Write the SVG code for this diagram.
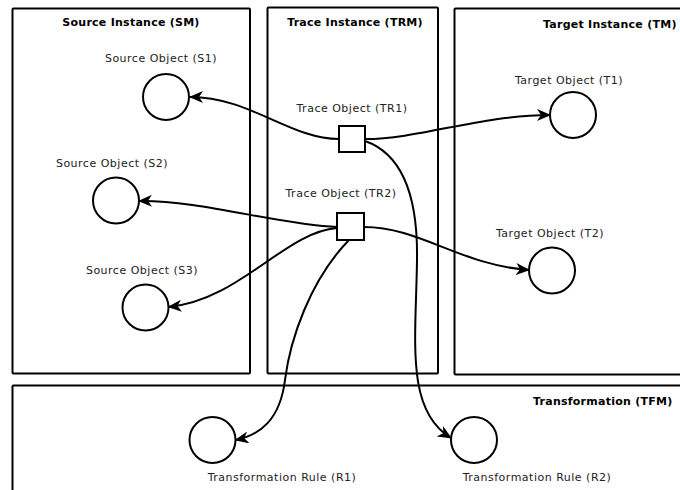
<svg xmlns="http://www.w3.org/2000/svg" width="680" height="490" viewBox="0 0 680 490">
<style>
.box{fill:#fff;stroke:#000;stroke-width:2}
.obj{fill:#fff;stroke:#000;stroke-width:2}
.title{font-family:"DejaVu Sans",sans-serif;font-weight:bold;font-size:11px;letter-spacing:0.25px;fill:#000}
.lbl{font-family:"DejaVu Sans",sans-serif;font-size:11px;letter-spacing:0.5px;fill:#222}
.con{fill:none;stroke:#000;stroke-width:2}
</style>
<defs>
<marker id="arr" viewBox="0 0 14 12" refX="13" refY="6" markerWidth="14" markerHeight="12" markerUnits="userSpaceOnUse" orient="auto">
<path d="M0,0 L14,6 L0,12 L4,6 z" fill="#000"/>
</marker>
</defs>
<rect width="680" height="490" fill="#fff"/>
<g id="source-instance">
<rect class="box" x="12.5" y="8.5" width="237.5" height="365" rx="1"/>
<text class="title" x="131" y="26" text-anchor="middle">Source Instance (SM)</text>
</g>
<g id="trace-instance">
<rect class="box" x="267.5" y="7.5" width="170.5" height="366" rx="1"/>
<text class="title" x="355" y="26" text-anchor="middle">Trace Instance (TRM)</text>
</g>
<g id="target-instance">
<rect class="box" x="454.5" y="8.5" width="240" height="366" rx="1"/>
<text class="title" x="543" y="28">Target Instance (TM)</text>
</g>
<g id="transformation">
<rect class="box" x="12.5" y="385.5" width="690" height="120" rx="1"/>
<text class="title" x="533" y="405">Transformation (TFM)</text>
</g>
<g id="S1">
<text class="lbl" x="161" y="62" text-anchor="middle">Source Object (S1)</text>
<circle class="obj" cx="166" cy="97" r="23"/>
</g>
<g id="S2">
<text class="lbl" x="112" y="167" text-anchor="middle">Source Object (S2)</text>
<circle class="obj" cx="116" cy="200.5" r="23"/>
</g>
<g id="S3">
<text class="lbl" x="142" y="274" text-anchor="middle">Source Object (S3)</text>
<circle class="obj" cx="145.5" cy="307.5" r="23"/>
</g>
<g id="TR1">
<text class="lbl" x="352" y="112" text-anchor="middle">Trace Object (TR1)</text>
<rect class="obj" x="339" y="126" width="26" height="26"/>
</g>
<g id="TR2">
<text class="lbl" x="341" y="197" text-anchor="middle">Trace Object (TR2)</text>
<rect class="obj" x="337" y="213" width="27" height="27"/>
</g>
<g id="T1">
<text class="lbl" x="569" y="84" text-anchor="middle">Target Object (T1)</text>
<circle class="obj" cx="573" cy="115" r="23"/>
</g>
<g id="T2">
<text class="lbl" x="550" y="237" text-anchor="middle">Target Object (T2)</text>
<circle class="obj" cx="552" cy="270.5" r="23"/>
</g>
<g id="R1">
<circle class="obj" cx="212.5" cy="440" r="23"/>
<text class="lbl" x="282" y="481" text-anchor="middle">Transformation Rule (R1)</text>
</g>
<g id="R2">
<circle class="obj" cx="474" cy="440" r="23"/>
<text class="lbl" x="537" y="481" text-anchor="middle">Transformation Rule (R2)</text>
</g>
<g id="connectors">
<path class="con" marker-end="url(#arr)" d="M339,139 C290,139 250,97 190,97"/>
<path class="con" marker-end="url(#arr)" d="M365,139 C420,139 480,115 550,115"/>
<path class="con" marker-end="url(#arr)" d="M365,141 C405,155 418,200 417,260 C416,340 405,410 451,438"/>
<path class="con" marker-end="url(#arr)" d="M337,227 C280,225 200,200 139,201"/>
<path class="con" marker-end="url(#arr)" d="M337,228 C285,232 240,300 168.5,307"/>
<path class="con" marker-end="url(#arr)" d="M364,227 C420,227 460,265 529,270"/>
<path class="con" marker-end="url(#arr)" d="M349,240 C310,280 290,340 285,380 C280,420 260,435 235.5,440"/>
</g>
</svg>
